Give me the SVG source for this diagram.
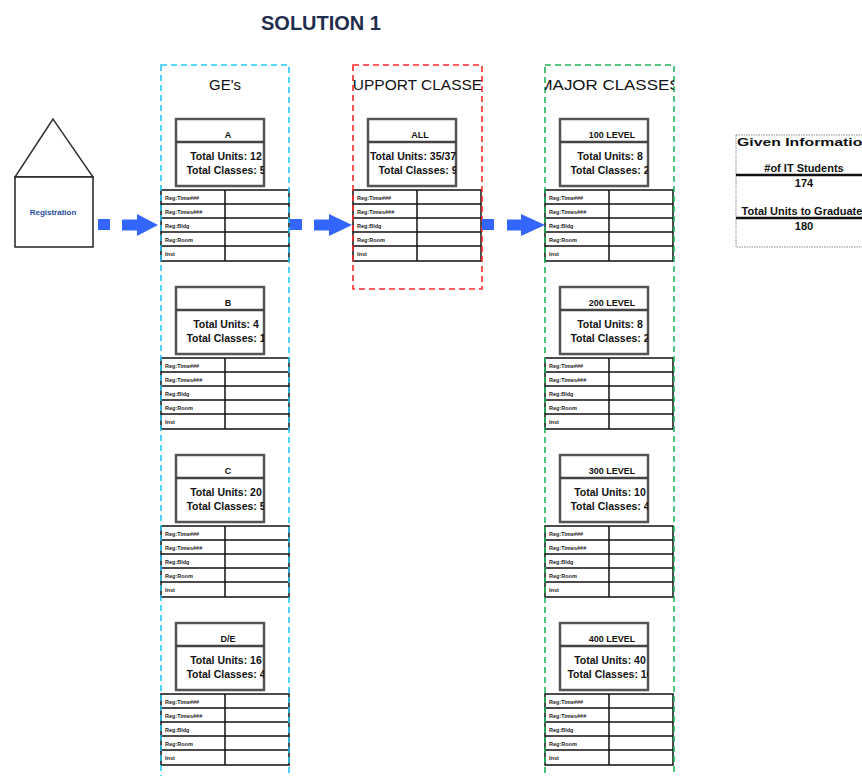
<svg xmlns="http://www.w3.org/2000/svg" width="862" height="776" viewBox="0 0 862 776">
<style>
text{font-family:"Liberation Sans",Arial,sans-serif}
.ttl{font-size:20px;font-weight:bold;fill:#1f2d4d;text-anchor:middle}
.grp{font-size:15px;fill:#111;text-anchor:middle}
.cbox{fill:#fff;stroke:#555;stroke-width:2.5}
.cdiv{stroke:#444;stroke-width:2.5}
.hd{font-size:9px;font-weight:bold;fill:#111;text-anchor:middle}
.tu{font-size:10.5px;font-weight:bold;fill:#111;text-anchor:middle}
.tbl{fill:#fff;stroke:#111;stroke-width:1.5}
.tl{stroke:#111;stroke-width:1.5}
.rt{font-size:5.5px;font-weight:bold;fill:#222}
.dash{fill:none;stroke-width:1.6;stroke-dasharray:6 4}
.arr{fill:#3366ff}
.gi{font-size:11px;font-weight:bold;fill:#111;text-anchor:middle}
.gl{stroke:#111;stroke-width:2.5}
</style>
<defs>
<clipPath id="cb"><rect x="0" y="0" width="88" height="67"/></clipPath>
<clipPath id="cs"><rect x="353" y="60" width="129" height="40"/></clipPath>
<clipPath id="cm"><rect x="545" y="60" width="129" height="40"/></clipPath>
</defs>
<rect width="862" height="776" fill="#fff"/>
<text class="ttl" x="321" y="30">SOLUTION 1</text>

<g id="registration">
<polygon points="53,119 15,177 93,177" fill="none" stroke="#333" stroke-width="1.5"/>
<rect x="15" y="177" width="78" height="70" fill="#fff" stroke="#222" stroke-width="1.5"/>
<text x="53" y="215" font-size="8" font-weight="bold" fill="#1f4e9b" text-anchor="middle">Registration</text>
</g>

<g id="ge-a" transform="translate(176,119)">
<rect class="cbox" x="0" y="0" width="88" height="67"/><line class="cdiv" x1="0" y1="23" x2="88" y2="23"/>
<g clip-path="url(#cb)"><text class="hd" x="52" y="19">A</text><text class="tu" x="50" y="41">Total Units: 12</text><text class="tu" x="50" y="55">Total Classes: 5</text></g>
<rect class="tbl" x="-15" y="71" width="128" height="71"/>
<path class="tl" d="M-15 85H113M-15 99H113M-15 113H113M-15 127H113M49 71V142"/>
<text class="rt" x="-11" y="81">Reg:Time###</text><text class="rt" x="-11" y="95">Reg:Times###</text><text class="rt" x="-11" y="109">Reg:Bldg</text><text class="rt" x="-11" y="123">Reg:Room</text><text class="rt" x="-11" y="137">Inst</text>
</g>
<g id="ge-b" transform="translate(176,287)">
<rect class="cbox" x="0" y="0" width="88" height="67"/><line class="cdiv" x1="0" y1="23" x2="88" y2="23"/>
<g clip-path="url(#cb)"><text class="hd" x="52" y="19">B</text><text class="tu" x="50" y="41">Total Units: 4</text><text class="tu" x="50" y="55">Total Classes: 1</text></g>
<rect class="tbl" x="-15" y="71" width="128" height="71"/>
<path class="tl" d="M-15 85H113M-15 99H113M-15 113H113M-15 127H113M49 71V142"/>
<text class="rt" x="-11" y="81">Reg:Time###</text><text class="rt" x="-11" y="95">Reg:Times###</text><text class="rt" x="-11" y="109">Reg:Bldg</text><text class="rt" x="-11" y="123">Reg:Room</text><text class="rt" x="-11" y="137">Inst</text>
</g>
<g id="ge-c" transform="translate(176,455)">
<rect class="cbox" x="0" y="0" width="88" height="67"/><line class="cdiv" x1="0" y1="23" x2="88" y2="23"/>
<g clip-path="url(#cb)"><text class="hd" x="52" y="19">C</text><text class="tu" x="50" y="41">Total Units: 20</text><text class="tu" x="50" y="55">Total Classes: 5</text></g>
<rect class="tbl" x="-15" y="71" width="128" height="71"/>
<path class="tl" d="M-15 85H113M-15 99H113M-15 113H113M-15 127H113M49 71V142"/>
<text class="rt" x="-11" y="81">Reg:Time###</text><text class="rt" x="-11" y="95">Reg:Times###</text><text class="rt" x="-11" y="109">Reg:Bldg</text><text class="rt" x="-11" y="123">Reg:Room</text><text class="rt" x="-11" y="137">Inst</text>
</g>
<g id="ge-de" transform="translate(176,623)">
<rect class="cbox" x="0" y="0" width="88" height="67"/><line class="cdiv" x1="0" y1="23" x2="88" y2="23"/>
<g clip-path="url(#cb)"><text class="hd" x="52" y="19">D/E</text><text class="tu" x="50" y="41">Total Units: 16</text><text class="tu" x="50" y="55">Total Classes: 4</text></g>
<rect class="tbl" x="-15" y="71" width="128" height="71"/>
<path class="tl" d="M-15 85H113M-15 99H113M-15 113H113M-15 127H113M49 71V142"/>
<text class="rt" x="-11" y="81">Reg:Time###</text><text class="rt" x="-11" y="95">Reg:Times###</text><text class="rt" x="-11" y="109">Reg:Bldg</text><text class="rt" x="-11" y="123">Reg:Room</text><text class="rt" x="-11" y="137">Inst</text>
</g>

<g id="support-all" transform="translate(368,119)">
<rect class="cbox" x="0" y="0" width="88" height="67"/><line class="cdiv" x1="0" y1="23" x2="88" y2="23"/>
<g clip-path="url(#cb)"><text class="hd" x="52" y="19">ALL</text><text class="tu" x="45" y="41">Total Units: 35/37</text><text class="tu" x="50" y="55">Total Classes: 9</text></g>
<rect class="tbl" x="-15" y="71" width="128" height="71"/>
<path class="tl" d="M-15 85H113M-15 99H113M-15 113H113M-15 127H113M49 71V142"/>
<text class="rt" x="-11" y="81">Reg:Time###</text><text class="rt" x="-11" y="95">Reg:Times###</text><text class="rt" x="-11" y="109">Reg:Bldg</text><text class="rt" x="-11" y="123">Reg:Room</text><text class="rt" x="-11" y="137">Inst</text>
</g>

<g id="major-100" transform="translate(560,119)">
<rect class="cbox" x="0" y="0" width="88" height="67"/><line class="cdiv" x1="0" y1="23" x2="88" y2="23"/>
<g clip-path="url(#cb)"><text class="hd" x="52" y="19">100 LEVEL</text><text class="tu" x="50" y="41">Total Units: 8</text><text class="tu" x="50" y="55">Total Classes: 2</text></g>
<rect class="tbl" x="-15" y="71" width="128" height="71"/>
<path class="tl" d="M-15 85H113M-15 99H113M-15 113H113M-15 127H113M49 71V142"/>
<text class="rt" x="-11" y="81">Reg:Time###</text><text class="rt" x="-11" y="95">Reg:Times###</text><text class="rt" x="-11" y="109">Reg:Bldg</text><text class="rt" x="-11" y="123">Reg:Room</text><text class="rt" x="-11" y="137">Inst</text>
</g>
<g id="major-200" transform="translate(560,287)">
<rect class="cbox" x="0" y="0" width="88" height="67"/><line class="cdiv" x1="0" y1="23" x2="88" y2="23"/>
<g clip-path="url(#cb)"><text class="hd" x="52" y="19">200 LEVEL</text><text class="tu" x="50" y="41">Total Units: 8</text><text class="tu" x="50" y="55">Total Classes: 2</text></g>
<rect class="tbl" x="-15" y="71" width="128" height="71"/>
<path class="tl" d="M-15 85H113M-15 99H113M-15 113H113M-15 127H113M49 71V142"/>
<text class="rt" x="-11" y="81">Reg:Time###</text><text class="rt" x="-11" y="95">Reg:Times###</text><text class="rt" x="-11" y="109">Reg:Bldg</text><text class="rt" x="-11" y="123">Reg:Room</text><text class="rt" x="-11" y="137">Inst</text>
</g>
<g id="major-300" transform="translate(560,455)">
<rect class="cbox" x="0" y="0" width="88" height="67"/><line class="cdiv" x1="0" y1="23" x2="88" y2="23"/>
<g clip-path="url(#cb)"><text class="hd" x="52" y="19">300 LEVEL</text><text class="tu" x="50" y="41">Total Units: 10</text><text class="tu" x="50" y="55">Total Classes: 4</text></g>
<rect class="tbl" x="-15" y="71" width="128" height="71"/>
<path class="tl" d="M-15 85H113M-15 99H113M-15 113H113M-15 127H113M49 71V142"/>
<text class="rt" x="-11" y="81">Reg:Time###</text><text class="rt" x="-11" y="95">Reg:Times###</text><text class="rt" x="-11" y="109">Reg:Bldg</text><text class="rt" x="-11" y="123">Reg:Room</text><text class="rt" x="-11" y="137">Inst</text>
</g>
<g id="major-400" transform="translate(560,623)">
<rect class="cbox" x="0" y="0" width="88" height="67"/><line class="cdiv" x1="0" y1="23" x2="88" y2="23"/>
<g clip-path="url(#cb)"><text class="hd" x="52" y="19">400 LEVEL</text><text class="tu" x="50" y="41">Total Units: 40</text><text class="tu" x="50" y="55">Total Classes: 10</text></g>
<rect class="tbl" x="-15" y="71" width="128" height="71"/>
<path class="tl" d="M-15 85H113M-15 99H113M-15 113H113M-15 127H113M49 71V142"/>
<text class="rt" x="-11" y="81">Reg:Time###</text><text class="rt" x="-11" y="95">Reg:Times###</text><text class="rt" x="-11" y="109">Reg:Bldg</text><text class="rt" x="-11" y="123">Reg:Room</text><text class="rt" x="-11" y="137">Inst</text>
</g>

<g id="ge-group">
<rect class="dash" x="161" y="65" width="128" height="730" stroke="#29c5f6"/>
<text class="grp" x="225" y="90">GE's</text>
</g>
<g id="support-group">
<rect class="dash" x="353" y="65" width="129" height="224" stroke="#ff2a2a"/>
<g clip-path="url(#cs)"><text class="grp" x="417.5" y="90" textLength="150" lengthAdjust="spacingAndGlyphs">SUPPORT CLASSES</text></g>
</g>
<g id="major-group">
<rect class="dash" x="545" y="65" width="129" height="730" stroke="#22b45a"/>
<g clip-path="url(#cm)"><text class="grp" x="609.5" y="90" textLength="142" lengthAdjust="spacingAndGlyphs">MAJOR CLASSES</text></g>
</g>

<g id="given-info">
<rect x="736" y="135" width="140" height="112" fill="none" stroke="#888" stroke-width="1" stroke-dasharray="1.5 1"/>
<text x="737" y="146" font-size="11" font-weight="bold" fill="#111" textLength="135" lengthAdjust="spacingAndGlyphs">Given Information</text>
<text class="gi" x="804" y="172">#of IT Students</text>
<line class="gl" x1="736" y1="175" x2="862" y2="175"/>
<text class="gi" x="804" y="187" font-size="10">174</text>
<text class="gi" x="802" y="215">Total Units to Graduate</text>
<line class="gl" x1="736" y1="218" x2="862" y2="218"/>
<text class="gi" x="804" y="230" font-size="10">180</text>
</g>

<g id="connectors">
<rect class="arr" x="98" y="219" width="12" height="11"/>
<polygon class="arr" points="122,219.5 137,219.5 137,214 158,225 137,236 137,230.5 122,230.5"/>
<rect class="arr" x="290" y="219" width="12" height="11"/>
<polygon class="arr" points="314,219.5 329,219.5 329,214 352,225 329,236 329,230.5 314,230.5"/>
<rect class="arr" x="482" y="219" width="12" height="11"/>
<polygon class="arr" points="507,219.5 521,219.5 521,214 545,225 521,236 521,230.5 507,230.5"/>
</g>
</svg>
